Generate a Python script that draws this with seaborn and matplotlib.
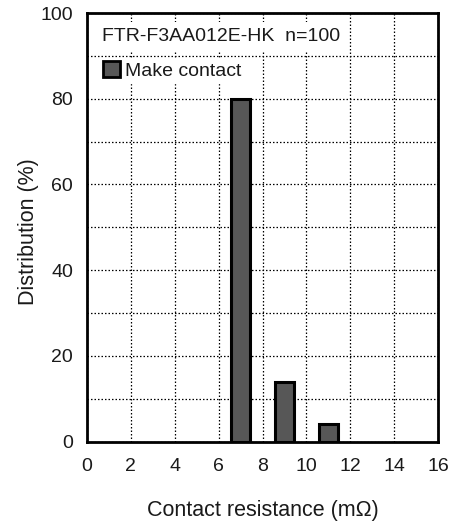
import matplotlib
matplotlib.use("Agg")
import matplotlib.pyplot as plt
import seaborn as sns
import pandas as pd
from matplotlib.patches import Patch

# values
resistance = [7, 9, 11]          # bin centre, mOhm
distribution = [80, 14, 4]       # %
model_label = "FTR-F3AA012E-HK  n=100"
series_label = "Make contact"
x_ticks = [0, 2, 4, 6, 8, 10, 12, 14, 16]
y_ticks = [0, 20, 40, 60, 80, 100]

sns.set_theme(style="white")
plt.rcParams["font.family"] = ["Liberation Sans", "DejaVu Sans"]

BAR = "#575757"
TXT = "#1a1a1a"
df = pd.DataFrame({"r": resistance, "d": distribution})

fig = plt.figure(figsize=(4.56, 5.22), dpi=100)
ax = fig.add_axes([87 / 456, 1 - 441.5 / 522, 351 / 456, 428.5 / 522])

sns.barplot(data=df, x="r", y="d", native_scale=True, width=0.43,
            color=BAR, saturation=1, edgecolor="black", linewidth=2.2, ax=ax, zorder=3)

ax.set_xlim(0, 16)
ax.set_ylim(0, 100)
ax.set_xticks(x_ticks)
ax.set_xticks(range(0, 17, 2), minor=True)
ax.set_yticks(y_ticks)
ax.set_yticks(range(0, 101, 10), minor=True)
ax.grid(which="both", color="black", linestyle=(0, (1.2, 1.6)), linewidth=0.9, zorder=0)
ax.set_axisbelow(True)
ax.tick_params(which="both", length=0, labelsize=14, colors=TXT)
ax.tick_params(axis="x", pad=12)
ax.tick_params(axis="y", pad=10)
for s in ax.spines.values():
    s.set_color("black")
    s.set_linewidth(2)

ax.set_xlabel("Contact resistance (m\u03a9)", fontsize=15.5, color=TXT, labelpad=18)
ax.set_ylabel("Distribution (%)", fontsize=15.5, color=TXT)
ax.yaxis.set_label_coords(-0.138, 0.49)

ax.text(0.042, 0.945, model_label, transform=ax.transAxes, fontsize=14, color=TXT,
        va="center", ha="left", zorder=5,
        bbox=dict(facecolor="white", edgecolor="none", pad=4))
leg = ax.legend(handles=[Patch(facecolor=BAR, edgecolor="black", linewidth=2)],
                labels=[series_label], loc="center left", bbox_to_anchor=(0.038, 0.866),
                frameon=True, fontsize=14, handlelength=0.85, handleheight=0.85,
                handletextpad=0.25, borderpad=0.15, borderaxespad=0)
for t in leg.get_texts():
    t.set_color(TXT)
leg.get_frame().set_edgecolor("white")
leg.get_frame().set_alpha(1)
leg.get_frame().set_boxstyle("square", pad=0)
leg.set_zorder(5)

fig.savefig("out.png", dpi=100)
